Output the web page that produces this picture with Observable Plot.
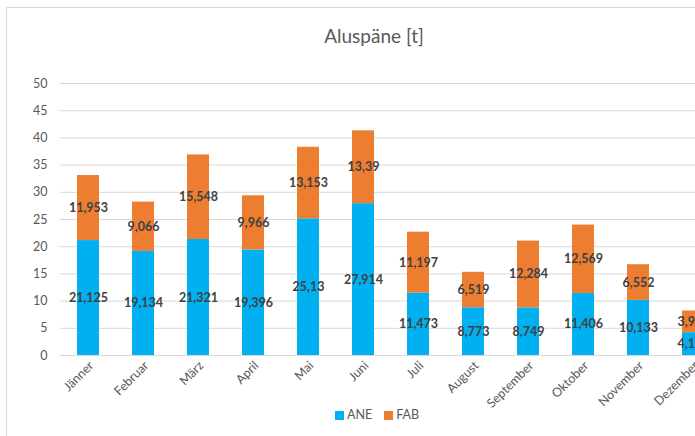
<!DOCTYPE html>
<html><head><meta charset="utf-8">
<script src="https://cdn.jsdelivr.net/npm/d3@7"></script>
<script src="https://cdn.jsdelivr.net/npm/@observablehq/plot@0.6"></script>
<style>
html,body{margin:0;padding:0;overflow:hidden;background:#fff;}
#wrap{position:relative;width:695px;height:436px;overflow:hidden;font-family:Lato,"Open Sans",sans-serif;}
#frame{position:absolute;left:6px;top:7px;width:740px;height:450px;border:1px solid #d9d9d9;box-sizing:border-box;}
#title{position:absolute;left:0;width:748px;top:24px;text-align:center;font-size:19px;color:#595959;}
#chart{position:absolute;left:0;top:60px;width:740px;}
#chart svg{max-width:none !important;}
#legend{position:absolute;left:0;width:754px;top:407px;text-align:center;font-size:12.5px;color:#595959;white-space:nowrap;}
#legend span.sw{display:inline-block;width:9px;height:9px;margin-right:3px;vertical-align:-1px;}
#legend span.item{margin:0 6px;}
</style>
</head><body>
<div id="wrap">
  <div id="frame"></div>
  <div id="title">Aluspäne [t]</div>
  <div id="chart"></div>
  <div id="legend"></div>
</div>
<script>
const months = ["Jänner","Februar","März","April","Mai","Juni","Juli","August","September","Oktober","November","Dezember"];
const ane = [21.125, 19.134, 21.321, 19.396, 25.13, 27.914, 11.473, 8.773, 8.749, 11.406, 10.133, 4.198];
const fab = [11.953, 9.066, 15.548, 9.966, 13.153, 13.39, 11.197, 6.519, 12.284, 12.569, 6.552, 3.987];
const series = ["ANE", "FAB"];
const colors = ["#00B0F0", "#ED7D31"];
const yTicks = [0, 5, 10, 15, 20, 25, 30, 35, 40, 45, 50];

const data = [];
months.forEach((m, i) => data.push({month: m, series: "ANE", value: ane[i]}));
months.forEach((m, i) => data.push({month: m, series: "FAB", value: fab[i]}));
const fmt = v => String(v).replace(".", ",");

const chart = Plot.plot({
  width: 740,
  height: 350,
  marginLeft: 60,
  marginRight: 20,
  marginTop: 23,
  marginBottom: 55,
  style: {fontFamily: "Lato, 'Open Sans', sans-serif", color: "#595959", background: "transparent", maxWidth: "none"},
  x: {domain: months, paddingInner: 0.6, paddingOuter: 0.3, label: null},
  y: {domain: [0, 50], label: null},
  color: {domain: series, range: colors},
  marks: [
    Plot.gridY(yTicks, {stroke: "#d9d9d9", strokeOpacity: 1}),
    Plot.barY(data, {x: "month", y: "value", fill: "series", z: "series"}),
    Plot.ruleY([0], {stroke: "#d9d9d9"}),
    Plot.text(data, Plot.stackY({x: "month", y: "value", z: "series",
      text: d => fmt(d.value), fill: "#404040", fontWeight: "bold", fontSize: 12.5})),
    Plot.axisY(yTicks, {tickSize: 0, tickPadding: 13, fontSize: 12.5, label: null}),
    Plot.axisX({tickRotate: -45, tickSize: 0, tickPadding: 8, dx: 3, fontSize: 12.5, label: null})
  ]
});
document.getElementById("chart").appendChild(chart);

const legend = document.getElementById("legend");
series.forEach((s, i) => {
  const item = document.createElement("span");
  item.className = "item";
  const sw = document.createElement("span");
  sw.className = "sw";
  sw.style.background = colors[i];
  item.appendChild(sw);
  item.appendChild(document.createTextNode(s));
  legend.appendChild(item);
});
</script>
</body></html>
